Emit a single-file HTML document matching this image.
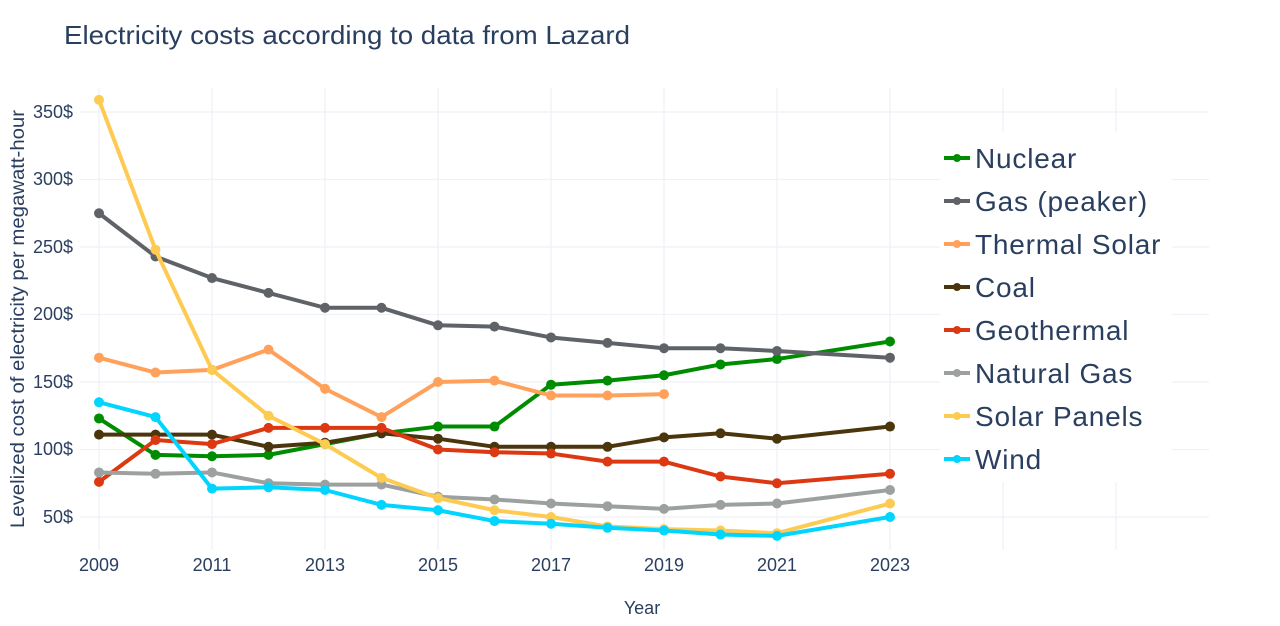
<!DOCTYPE html>
<html><head><meta charset="utf-8"><style>
body{margin:0;background:#fff;font-family:"Liberation Sans",sans-serif}
svg text{font-family:"Liberation Sans",sans-serif;fill:#2a3f5f}
</style></head><body>
<svg id="s" width="1280" height="621" viewBox="0 0 1280 621" xmlns="http://www.w3.org/2000/svg">
<rect width="1280" height="621" fill="#fff"/>
<g id="grid" stroke="#eef1f8" stroke-width="1.2"></g>
<text x="64" y="44" font-size="26" textLength="566" lengthAdjust="spacingAndGlyphs">Electricity costs according to data from Lazard</text>
<g font-size="18" text-anchor="end">
<text x="73" y="523">50$</text><text x="73" y="455">100$</text><text x="73" y="388">150$</text><text x="73" y="320">200$</text><text x="73" y="253">250$</text><text x="73" y="185">300$</text><text x="73" y="118">350$</text>
</g>
<g font-size="18" text-anchor="middle">
<text x="99" y="571">2009</text><text x="212" y="571">2011</text><text x="325" y="571">2013</text><text x="438" y="571">2015</text><text x="551" y="571">2017</text><text x="664" y="571">2019</text><text x="777" y="571">2021</text><text x="890" y="571">2023</text>
</g>
<text x="642" y="614" font-size="18" text-anchor="middle">Year</text>
<text transform="translate(24,319) rotate(-90)" font-size="19" text-anchor="middle" textLength="418" lengthAdjust="spacingAndGlyphs">Levelized cost of electricity per megawatt-hour</text>
<g id="series"></g>
<rect x="940" y="132" width="232" height="350" fill="#fff"/>
<g id="leg"></g>
<g font-size="28" letter-spacing="0.8">
<text x="975" y="168">Nuclear</text>
<text x="975" y="211">Gas (peaker)</text>
<text x="975" y="254">Thermal Solar</text>
<text x="975" y="297">Coal</text>
<text x="975" y="340">Geothermal</text>
<text x="975" y="383">Natural Gas</text>
<text x="975" y="426">Solar Panels</text>
<text x="975" y="469">Wind</text>
</g>
</svg>
<script>
const X=y=>99+(y-2009)*56.5, Y=v=>517-(v-50)*1.35;
const g=document.getElementById('grid');
let h='';
for(let yr=2009;yr<=2027;yr+=2)h+=`<line x1="${X(yr)}" y1="88" x2="${X(yr)}" y2="550"/>`;
for(let v=50;v<=350;v+=50)h+=`<line x1="80" y1="${Y(v)}" x2="1209" y2="${Y(v)}"/>`;
g.innerHTML=h;
const S=[
['#008c00',[[2009,123],[2010,96],[2011,95],[2012,96],[2013,104],[2014,112],[2015,117],[2016,117],[2017,148],[2018,151],[2019,155],[2020,163],[2021,167],[2023,180]]],
['#5f6368',[[2009,275],[2010,243],[2011,227],[2012,216],[2013,205],[2014,205],[2015,192],[2016,191],[2017,183],[2018,179],[2019,175],[2020,175],[2021,173],[2023,168]]],
['#ffa15a',[[2009,168],[2010,157],[2011,159],[2012,174],[2013,145],[2014,124],[2015,150],[2016,151],[2017,140],[2018,140],[2019,141]]],
['#4a350c',[[2009,111],[2010,111],[2011,111],[2012,102],[2013,105],[2014,112],[2015,108],[2016,102],[2017,102],[2018,102],[2019,109],[2020,112],[2021,108],[2023,117]]],
['#dc3912',[[2009,76],[2010,107],[2011,104],[2012,116],[2013,116],[2014,116],[2015,100],[2016,98],[2017,97],[2018,91],[2019,91],[2020,80],[2021,75],[2023,82]]],
['#9ca19f',[[2009,83],[2010,82],[2011,83],[2012,75],[2013,74],[2014,74],[2015,65],[2016,63],[2017,60],[2018,58],[2019,56],[2020,59],[2021,60],[2023,70]]],
['#fecb52',[[2009,359],[2010,248],[2011,159],[2012,125],[2013,104],[2014,79],[2015,64],[2016,55],[2017,50],[2018,43],[2019,41],[2020,40],[2021,38],[2023,60]]],
['#00d5ff',[[2009,135],[2010,124],[2011,71],[2012,72],[2013,70],[2014,59],[2015,55],[2016,47],[2017,45],[2018,42],[2019,40],[2020,37],[2021,36],[2023,50]]]
];
let o='',l='';
S.forEach(([c,d],i)=>{
 o+=`<polyline fill="none" stroke="${c}" stroke-width="4" stroke-linejoin="round" points="${d.map(p=>X(p[0])+','+Y(p[1])).join(' ')}"/>`;
 d.forEach(p=>o+=`<circle cx="${X(p[0])}" cy="${Y(p[1])}" r="5" fill="${c}"/>`);
 const yy=158+i*43;
 l+=`<line x1="944" y1="${yy}" x2="970" y2="${yy}" stroke="${c}" stroke-width="4"/><circle cx="957" cy="${yy}" r="4" fill="${c}"/>`;
});
document.getElementById('series').innerHTML=o;
document.getElementById('leg').innerHTML=l;
</script>
</body></html>
